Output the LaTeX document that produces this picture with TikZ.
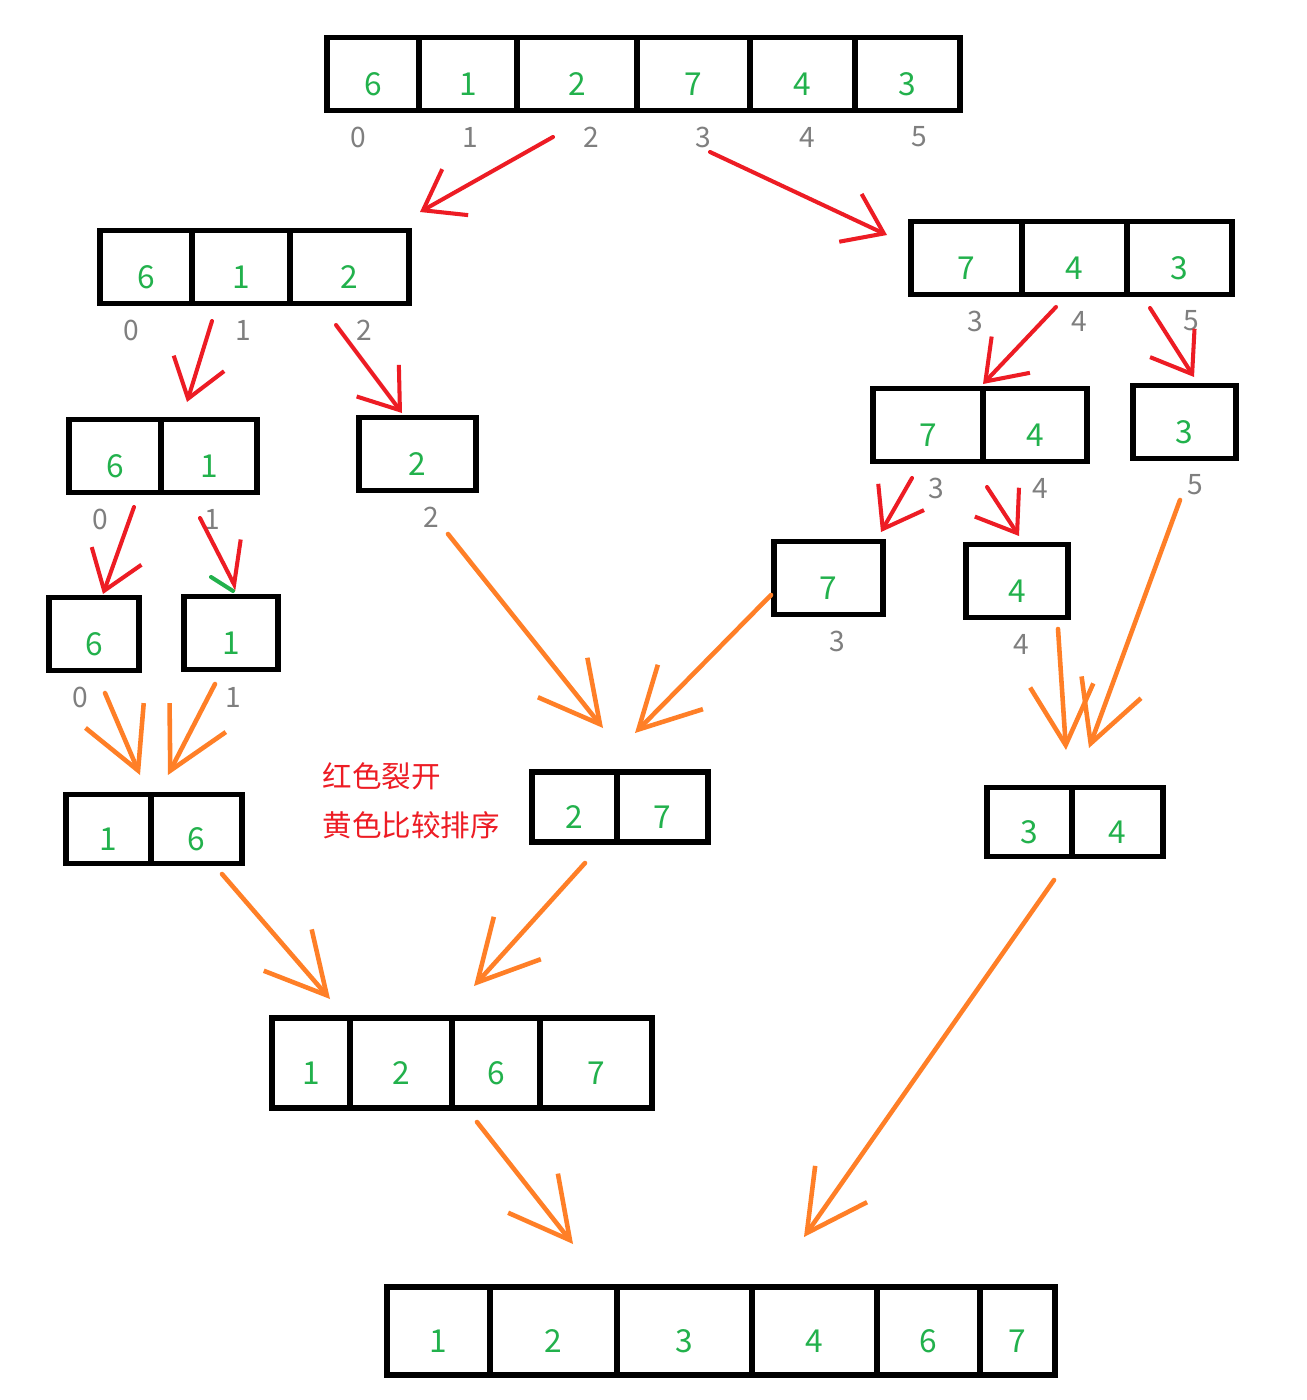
\documentclass[tikz,border=0pt]{standalone}
\usepackage{fontspec}
\setmainfont{Noto Sans CJK SC}
\usetikzlibrary{arrows.meta}
\definecolor{digit}{RGB}{34,177,76}
\definecolor{idxgray}{RGB}{127,127,127}
\definecolor{splitred}{RGB}{237,28,36}
\definecolor{mergeorange}{RGB}{255,127,39}
\tikzset{
  cell/.style={draw,line width=1.6pt,inner sep=0pt,text=digit,
    font=\fontsize{9}{11}\selectfont,text height=12.3pt,text depth=0pt},
  idx/.style={text=idxgray,font=\fontsize{8}{10}\selectfont,inner sep=0pt},
  splitarrow/.style={draw=splitred,line width=1.15pt,line cap=round,line join=round,
    -{Straight Barb[length=10.5pt,width=15pt]}},
  mergearrow/.style={draw=mergeorange,line width=1.3pt,line cap=round,line join=round,
    -{Straight Barb[length=17pt,width=18pt]}},
  notetext/.style={text=splitred,font=\fontsize{8.4}{10}\selectfont,anchor=west,inner sep=0pt}
}
\begin{document}
\begin{tikzpicture}[x=0.01cm,y=-0.01cm]
\fill[white] (0,0) rectangle (1306,1400);
\useasboundingbox (0,0) rectangle (1306,1400);
% arrays
\foreach \n/\xa/\xb/\yc/\h/\v in {
  t1/327/419/74/78/6,t2/419/517/74/78/1,t3/517/637/74/78/2,
  t4/637/750/74/78/7,t5/750/855/74/78/4,t6/855/960/74/78/3,
  l1/100/192/267/78/6,l2/192/290/267/78/1,l3/290/409/267/78/2,
  r1/911/1022/258/78/7,r2/1022/1127/258/78/4,r3/1127/1232/258/78/3,
  ll1/69/161/456/78/6,ll2/161/257/456/78/1,lr1/359/476/454/78/2,
  rl1/873/983/425/78/7,rl2/983/1087/425/78/4,rr1/1133/1236/422/78/3,
  a1/49/139/634/78/6,a2/184/278/633/78/1,a3/774/883/578/78/7,a4/966/1068/581/78/4,
  m1/66/151/829/74/1,m2/151/242/829/74/6,
  m3/532/617/807/75/2,m4/617/708/807/75/7,
  m5/987/1072/822/74/3,m6/1072/1163/822/74/4,
  n1/272/350/1063/95/1,n2/350/452/1063/95/2,n3/452/540/1063/95/6,n4/540/652/1063/95/7,
  f1/387/490/1331/93/1,f2/490/617/1331/93/2,f3/617/752/1331/93/3,
  f4/752/877/1331/93/4,f5/877/980/1331/93/6,f6/980/1055/1331/93/7}
  \node[cell,minimum width={(\xb-\xa)*0.01cm},minimum height={(\h-5)*0.01cm}]
    (\n) at ({(\xa+\xb)/2},\yc) {\v};
% indices
\foreach \n/\x/\y/\v in {
  it1/358/137/0,it2/470/137/1,it3/591/137/2,it4/703/137/3,it5/807/137/4,it6/919/137/5,
  il1/131/330/0,il2/243/330/1,il3/364/330/2,
  ir1/975/321/3,ir2/1079/321/4,ir3/1191/321/5,
  ill1/100/519/0,ill2/212/519/1,ilr1/431/517/2,
  irl1/936/488/3,irl2/1040/488/4,irr1/1195/485/5,
  ia1/80/697/0,ia2/233/697/1,ia3/837/641/3,ia4/1021/644/4}
  \node[idx] (\n) at (\x,\y) {\v};
\node[notetext] (note1) at (322,776) {红色裂开};
\node[notetext] (note2) at (322,825) {黄色比较排序};
% arrow ends
\foreach \n/\x/\y in {
  s1a/553/137,s1b/420/212,s2a/710/152,s2b/887/235,s3a/212/321,s3b/187/402,
  s4a/336/325,s4b/402/413,s5a/1056/307,s5b/983/384,s6a/1150/308,s6b/1194/377,
  s7a/134/507,s7b/103/594,s8a/200/518,s8b/237/590,s9a/912/478,s9b/881/532,
  s10a/987/487,s10b/1019/536,g1/211/577,g2/233/591,
  c1a/105/693,c1b/140/775,c2a/215/684,c2b/168/775,c3a/448/534,c3b/603/728,
  c4a/771/595,c4b/635/733,c5a/1058/629,c5b/1066/750,c6a/1180/500,c6b/1089/748,
  c7a/222/874,c7b/330/999,c8a/585/863,c8b/474/986,c9a/477/1122,c9b/573/1244,
  c10a/1054/880,c10b/804/1237}
  \coordinate (\n) at (\x,\y);
\foreach \from/\to in {s1a/s1b,s2a/s2b,s3a/s3b,s4a/s4b,s5a/s5b,s6a/s6b,s7a/s7b,s9a/s9b,s10a/s10b}
  \draw[splitarrow] (\from) -- (\to);
\draw[splitarrow,-{Straight Barb[left,length=10.5pt,width=15pt]}] (s8a) -- (s8b);
\draw[digit,line width=1.15pt,line cap=round] (g1) -- (g2);
\foreach \from/\to in {c1a/c1b,c2a/c2b,c3a/c3b,c4a/c4b,c5a/c5b,c6a/c6b,c7a/c7b,c8a/c8b,c9a/c9b,c10a/c10b}
  \draw[mergearrow] (\from) -- (\to);
\end{tikzpicture}
\end{document}
